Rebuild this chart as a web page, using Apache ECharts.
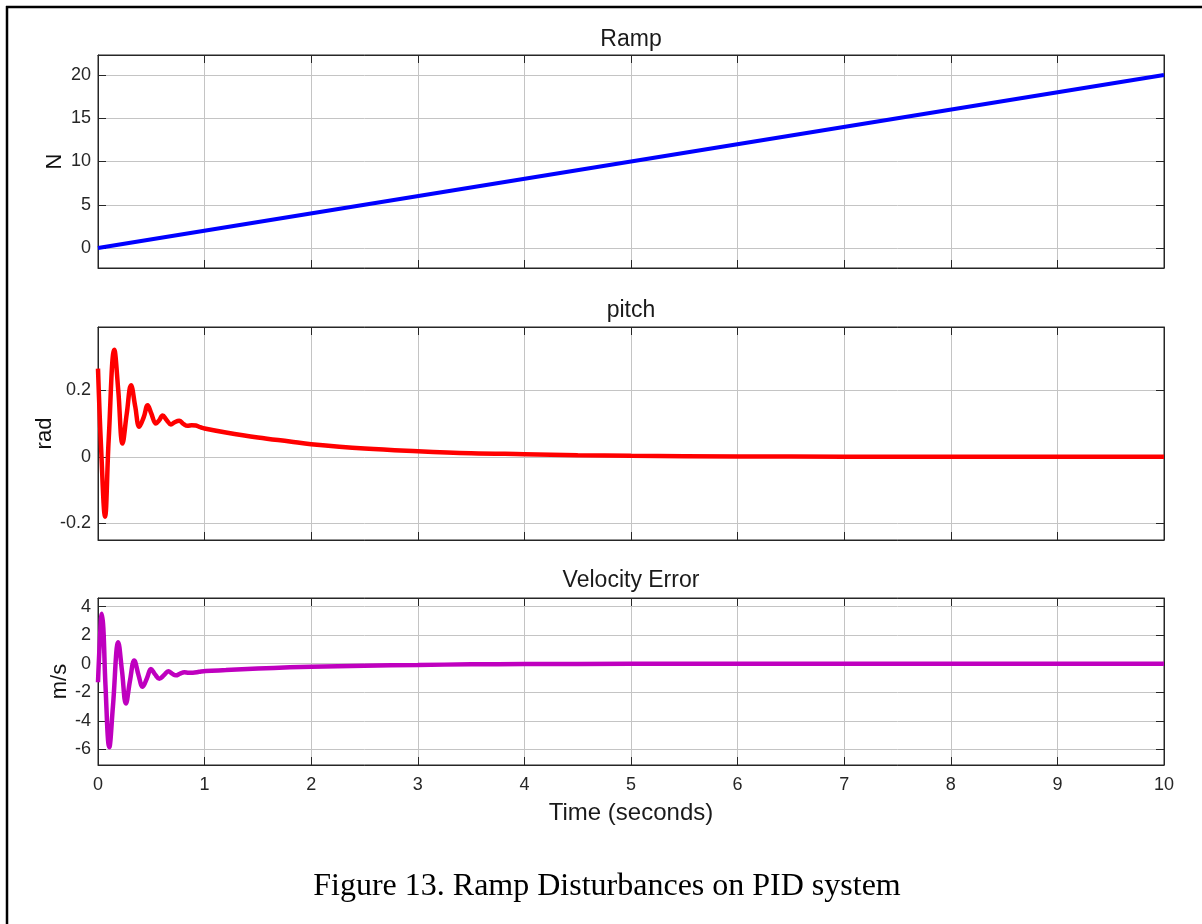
<!DOCTYPE html>
<html>
<head>
<meta charset="utf-8">
<script src="https://cdn.jsdelivr.net/npm/echarts@6/dist/echarts.min.js"></script>
<style>
html,body{margin:0;padding:0;background:#fff;}
#chart{width:1202px;height:924px;}
</style>
</head>
<body>
<div id="chart"></div>
<script>
// ---- data ----
const rampT = [0, 10];
const rampV = [0, 20];

const pitchT = [0, 0.03, 0.066, 0.10, 0.153, 0.19, 0.23, 0.27, 0.31, 0.35, 0.387, 0.43, 0.466, 0.50, 0.544, 0.575, 0.606, 0.645, 0.684, 0.72, 0.762, 0.80, 0.84, 0.88, 0.918, 0.96, 1.0, 1.2, 1.5, 1.8, 2.0, 2.5, 3.0, 3.5, 4.0, 4.5, 5.0, 6.0, 7.0, 8.0, 10.0];
const pitchV = [0.265, 0.02, -0.18, 0.05, 0.322, 0.2, 0.04, 0.13, 0.215, 0.15, 0.09, 0.12, 0.155, 0.13, 0.10, 0.11, 0.124, 0.11, 0.097, 0.104, 0.108, 0.099, 0.093, 0.095, 0.094, 0.089, 0.085, 0.073, 0.058, 0.046, 0.038, 0.025, 0.017, 0.011, 0.008, 0.005, 0.003, 0.001, 0.0005, 0, 0];

const velT = [0, 0.02, 0.035, 0.05, 0.07, 0.106, 0.14, 0.19, 0.225, 0.262, 0.30, 0.34, 0.38, 0.419, 0.46, 0.497, 0.535, 0.575, 0.62, 0.66, 0.695, 0.73, 0.77, 0.81, 0.85, 0.89, 0.95, 1.01, 1.2, 1.5, 1.8, 2.0, 2.5, 3.0, 3.5, 4.0, 5.0, 6.0, 10.0];
const velV = [-1.3, 2.0, 3.5, 2.5, -1.5, -5.85, -3.0, 1.5, -0.5, -2.8, -1.2, 0.22, -0.8, -1.62, -1.0, -0.38, -0.75, -1.05, -0.8, -0.53, -0.7, -0.82, -0.7, -0.6, -0.63, -0.63, -0.57, -0.52, -0.45, -0.34, -0.26, -0.22, -0.14, -0.09, -0.05, -0.03, -0.01, 0, 0];

const xTicks = [0,1,2,3,4,5,6,7,8,9,10];
const rampTicks = [0, 5, 10, 15, 20];
const pitchTicks = [-0.2, 0, 0.2];
const velTicks = [-6, -4, -2, 0, 2, 4];

const titles = ['Ramp', 'pitch', 'Velocity Error'];
const yNames = ['N', 'rad', 'm/s'];
const xName = 'Time (seconds)';
const caption = 'Figure 13. Ramp Disturbances on PID system';

// ---- layout ----
const FONT = 'Liberation Sans, Arial, sans-serif';
const AX = '#262626';
const GRIDC = '#c4c4c4';
const grids = [
  {left: 98, right: 38, top: 55, height: 213},
  {left: 98, right: 38, top: 327, height: 213},
  {left: 98, right: 38, top: 598, height: 167}
];
const yRanges = [[-2.3, 22.3], [-0.25, 0.39], [-7.1, 4.6]];
const yTickSets = [rampTicks, pitchTicks, velTicks];
const nameGaps = [32, 42, 27];

function zip(a, b) { return a.map((v, i) => [v, b[i]]); }

const xAxes = [], yAxes = [];
grids.forEach((g, i) => {
  const bottomLabels = i === 2;
  xAxes.push({
    type: 'value', gridIndex: i, min: 0, max: 10, interval: 1, position: 'bottom',
    axisLine: {show: true, onZero: false, lineStyle: {color: AX, width: 1}},
    axisTick: {show: true, inside: true, length: 8, lineStyle: {color: AX}},
    axisLabel: {show: bottomLabels, color: AX, fontFamily: FONT, fontSize: 18, margin: 11},
    splitLine: {show: true, lineStyle: {color: GRIDC, width: 1}},
    name: bottomLabels ? xName : '', nameLocation: 'middle', nameGap: 36,
    nameTextStyle: {color: '#1a1a1a', fontFamily: FONT, fontSize: 24}
  });
  xAxes.push({
    type: 'value', gridIndex: i, min: 0, max: 10, interval: 1, position: 'top',
    axisLine: {show: true, onZero: false, lineStyle: {color: AX, width: 1}},
    axisTick: {show: true, inside: true, length: 8, lineStyle: {color: AX}},
    axisLabel: {show: false}, splitLine: {show: false}
  });
  const r = yRanges[i], t = yTickSets[i];
  yAxes.push({
    type: 'value', gridIndex: i, min: r[0], max: r[1], position: 'left',
    axisLine: {show: true, onZero: false, lineStyle: {color: AX, width: 1}},
    axisTick: {show: true, inside: true, length: 8, lineStyle: {color: AX}, customValues: t},
    axisLabel: {show: true, color: AX, fontFamily: FONT, fontSize: 18, margin: 7, customValues: t},
    splitLine: {show: true, lineStyle: {color: GRIDC, width: 1}},
    name: yNames[i], nameLocation: 'middle', nameGap: nameGaps[i], nameMoveOverlap: false,
    nameTextStyle: {color: '#111', fontFamily: FONT, fontSize: 22}
  });
  yAxes.push({
    type: 'value', gridIndex: i, min: r[0], max: r[1], position: 'right',
    axisLine: {show: true, onZero: false, lineStyle: {color: AX, width: 1}},
    axisTick: {show: true, inside: true, length: 8, lineStyle: {color: AX}, customValues: t},
    axisLabel: {show: false, customValues: t}, splitLine: {show: false}
  });
});

const lineCommon = {type: 'line', showSymbol: false, symbol: 'none', animation: false, clip: true};
const series = [
  Object.assign({}, lineCommon, {xAxisIndex: 0, yAxisIndex: 0, data: zip(rampT, rampV), lineStyle: {color: '#0000ff', width: 4}}),
  Object.assign({}, lineCommon, {xAxisIndex: 2, yAxisIndex: 2, data: zip(pitchT, pitchV), smooth: 0.4, lineStyle: {color: '#ff0000', width: 4.5}}),
  Object.assign({}, lineCommon, {xAxisIndex: 4, yAxisIndex: 4, data: zip(velT, velV), smooth: 0.4, lineStyle: {color: '#bf00bf', width: 4.5}})
];

const titleY = [40, 311, 581];
const graphic = [
  {type: 'line', shape: {x1: 6, y1: 7, x2: 1202, y2: 7}, style: {stroke: '#000', lineWidth: 2.5}},
  {type: 'line', shape: {x1: 7, y1: 6, x2: 7, y2: 924}, style: {stroke: '#000', lineWidth: 2.5}},
  {type: 'text', x: 607, y: 887, style: {text: caption, fill: '#000', font: '32px "Liberation Serif", "Times New Roman", serif', textAlign: 'center', textVerticalAlign: 'middle'}}
];
titles.forEach((tx, i) => {
  graphic.push({type: 'text', x: 631, y: titleY[i], style: {text: tx, fill: '#1a1a1a', font: '23px "Liberation Sans", Arial, sans-serif', textAlign: 'center', textVerticalAlign: 'middle'}});
});

const chart = echarts.init(document.getElementById('chart'), null, {renderer: 'canvas'});
chart.setOption({
  backgroundColor: '#fff',
  animation: false,
  grid: grids.map(g => Object.assign({show: true, borderColor: AX, borderWidth: 1, backgroundColor: '#fff'}, g)),
  xAxis: xAxes,
  yAxis: yAxes,
  series: series,
  graphic: graphic
});
</script>
</body>
</html>
